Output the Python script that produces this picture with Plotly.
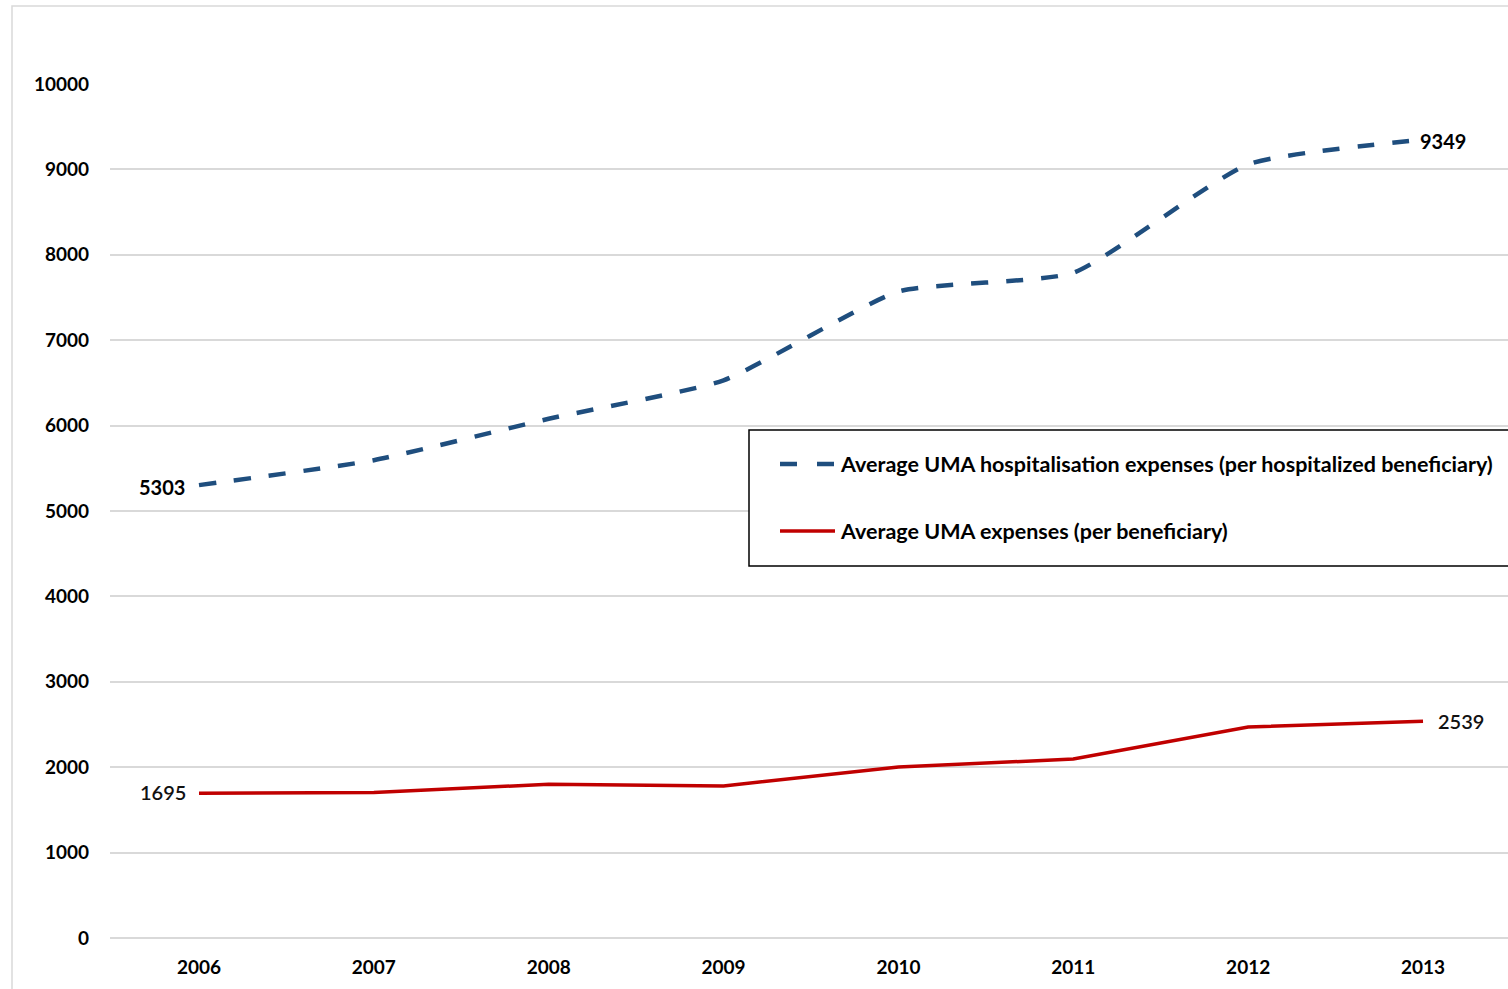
import plotly.graph_objects as go

# Years on the category axis
years = ["2006", "2007", "2008", "2009", "2010", "2011", "2012", "2013"]

# Average UMA hospitalisation expenses per hospitalized beneficiary
hosp_expenses = [5303, 5595, 6080, 6530, 7570, 7790, 9060, 9349]

# Average UMA expenses per beneficiary
avg_expenses = [1695, 1705, 1800, 1780, 2002, 2096, 2471, 2539]

series_names = [
    "Average UMA hospitalisation expenses (per hospitalized beneficiary)",
    "Average UMA expenses (per beneficiary)",
]

y_ticks = list(range(0, 10001, 1000))

BLUE = "#1F4E7E"
RED = "#C00000"
GRID = "#D9D9D9"
FONT = "Lato"

W, H = 1508, 989
L, R, T, B = 110, 0, 84, 51
PW, PH = W - L - R, H - T - B


def px(x):
    return (x - L) / PW


def py(y):
    return (H - B - y) / PH


fig = go.Figure()

fig.add_trace(go.Scatter(
    x=years, y=hosp_expenses, mode="lines", name=series_names[0],
    line=dict(color=BLUE, width=4.5, dash="17px,18px", shape="spline", smoothing=0.5),
    showlegend=False,
))
fig.add_trace(go.Scatter(
    x=years, y=avg_expenses, mode="lines", name=series_names[1],
    line=dict(color=RED, width=3.5),
    showlegend=False,
))

bold = dict(family=FONT, size=20, color="black", weight="bold")
medium = dict(family=FONT, size=20, color="#111111", weight=600)
legend_font = dict(family=FONT, size=21.5, color="black", weight="bold")

first, last = 0, len(years) - 1

# End-point value labels (x given as category index)
fig.add_annotation(x=first, y=hosp_expenses[first], text=str(hosp_expenses[first]),
                   showarrow=False, xanchor="right", yanchor="middle",
                   xshift=-12, yshift=-2, font=bold)
fig.add_annotation(x=last, y=hosp_expenses[last], text=str(hosp_expenses[last]),
                   showarrow=False, xanchor="left", yanchor="middle",
                   xshift=-5, yshift=-1, font=bold)
fig.add_annotation(x=first, y=avg_expenses[first], text=str(avg_expenses[first]),
                   showarrow=False, xanchor="right", yanchor="middle",
                   xshift=-11, yshift=1, font=medium)
fig.add_annotation(x=last, y=avg_expenses[last], text=str(avg_expenses[last]),
                   showarrow=False, xanchor="left", yanchor="middle",
                   xshift=13, yshift=0, font=medium)

# Outer chart frame
fig.add_shape(type="rect", xref="paper", yref="paper",
              x0=px(12), x1=px(W + 20), y0=py(H + 20), y1=py(6),
              line=dict(color=GRID, width=1.5), fillcolor="rgba(0,0,0,0)", layer="below")

# Legend box with line samples
fig.add_shape(type="rect", xref="paper", yref="paper",
              x0=px(749), x1=px(W + 20), y0=py(566), y1=py(430),
              line=dict(color="black", width=1.5), fillcolor="white")
fig.add_shape(type="line", xref="paper", yref="paper",
              x0=px(780), x1=px(835), y0=py(464), y1=py(464),
              line=dict(color=BLUE, width=4.5, dash="17px,20px"))
fig.add_shape(type="line", xref="paper", yref="paper",
              x0=px(780), x1=px(835), y0=py(531), y1=py(531),
              line=dict(color=RED, width=3.5))
for name, yy in zip(series_names, [464, 531]):
    fig.add_annotation(xref="paper", yref="paper", x=px(838), y=py(yy), text=name,
                       showarrow=False, xanchor="left", yanchor="middle", font=legend_font)

fig.update_layout(
    width=W, height=H,
    margin=dict(l=L, r=R, t=T, b=B, pad=0),
    paper_bgcolor="white", plot_bgcolor="white",
    font=dict(family=FONT, size=19, color="black"),
    showlegend=False,
)
fig.update_xaxes(
    type="category", range=[-0.509, 7.486],
    showgrid=False, showline=False, zeroline=False,
    ticks="", ticklabelstandoff=16,
    tickfont=dict(family=FONT, size=19, color="black", weight="bold"),
)
fig.update_yaxes(
    range=[0, 10000], tickvals=y_ticks, tickformat="d",
    showgrid=True, gridcolor=GRID, gridwidth=1.5,
    zeroline=True, zerolinecolor=GRID, zerolinewidth=1.5,
    showline=False, ticks="", ticklabelstandoff=20,
    tickfont=dict(family=FONT, size=19, color="black", weight="bold"),
)

fig.write_html("out.html")
